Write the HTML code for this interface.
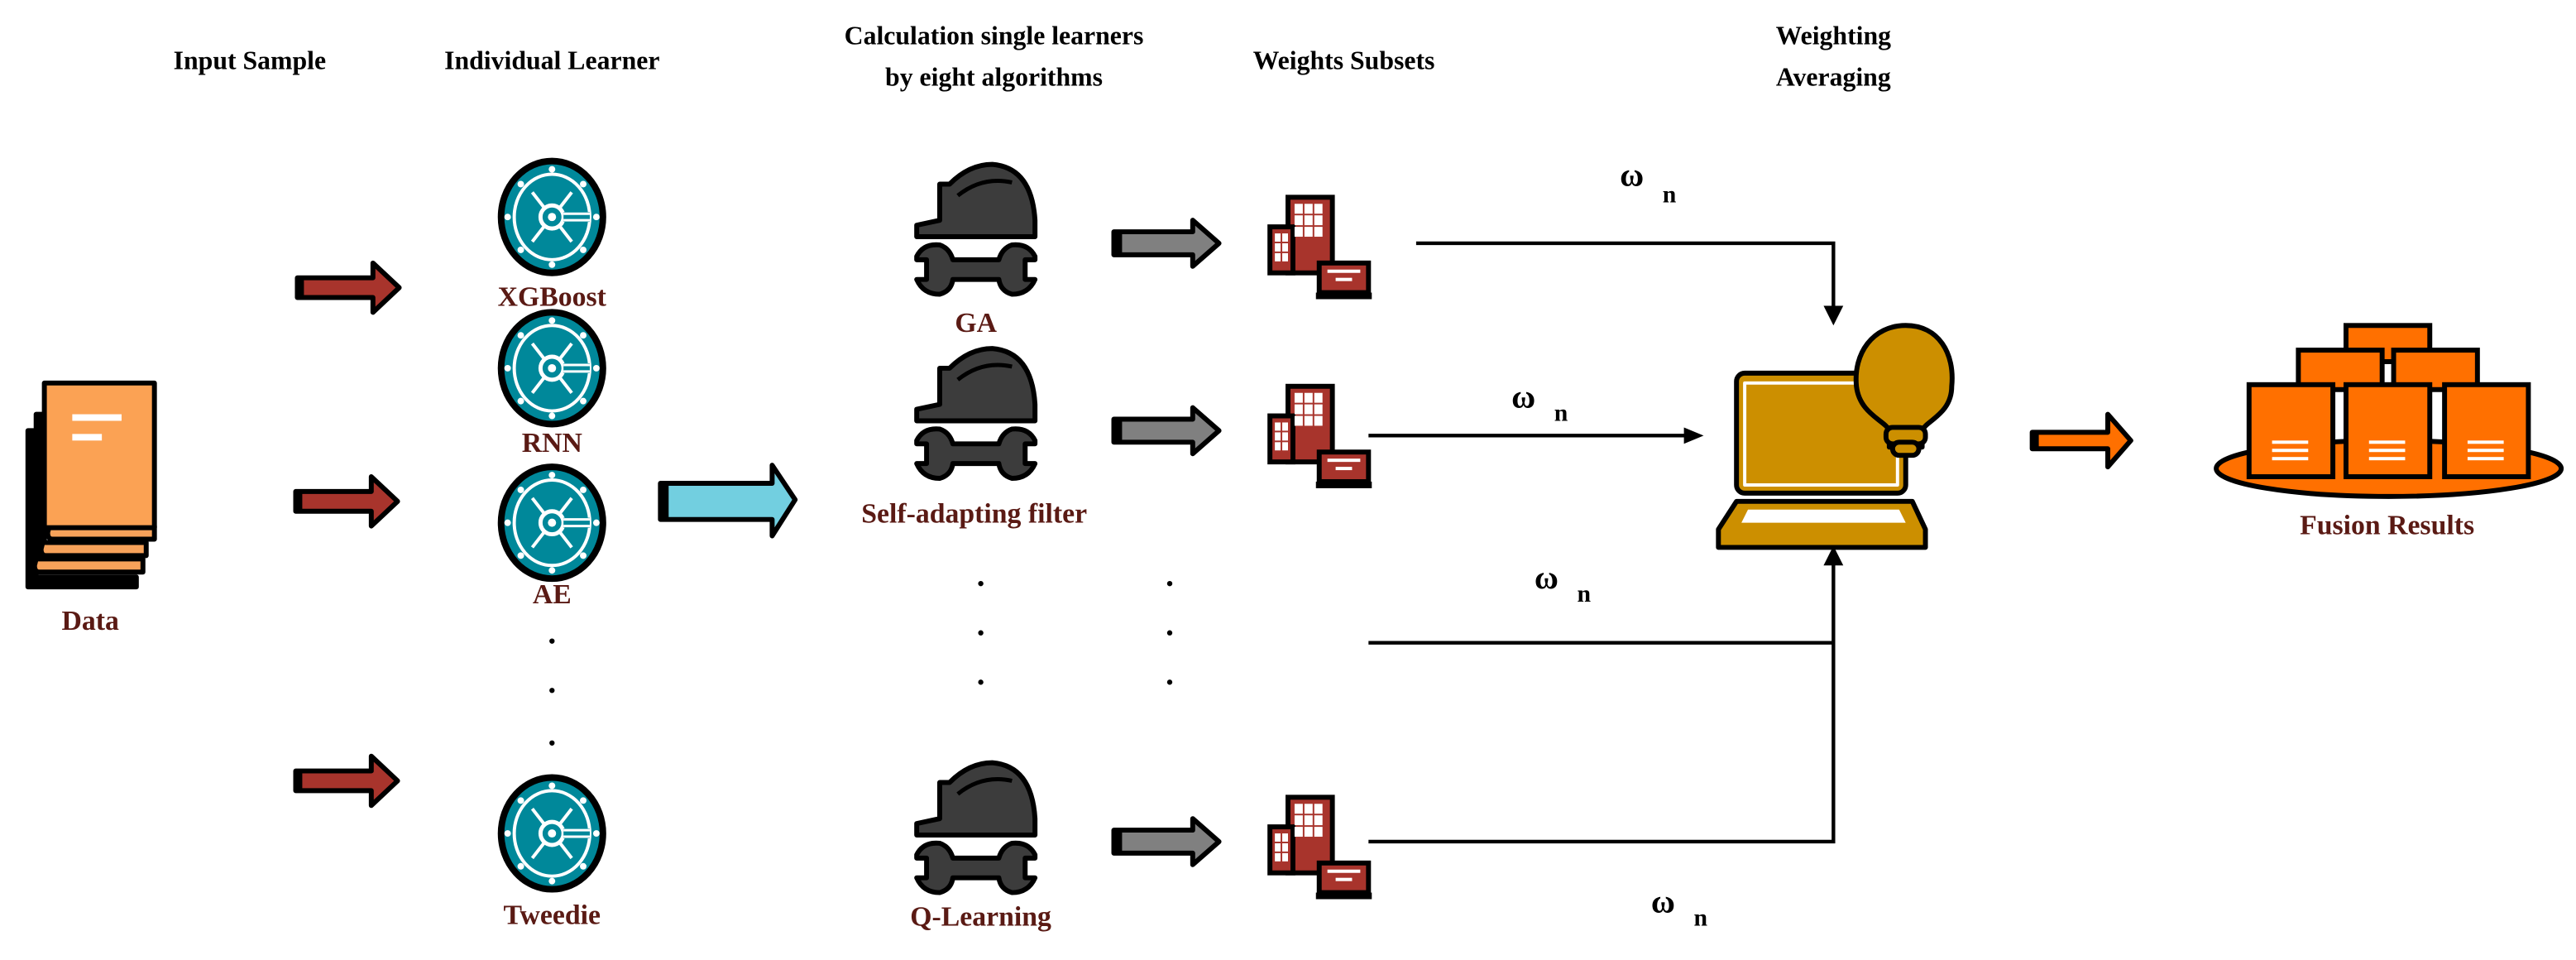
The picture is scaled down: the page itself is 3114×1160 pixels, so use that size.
<!DOCTYPE html>
<html><head><meta charset="utf-8"><style>
html,body{margin:0;padding:0;background:#fff;}
svg{display:block;}
text{font-family:"Liberation Serif",serif;font-weight:bold;}
</style></head><body>
<svg width="3114" height="1160" viewBox="0 0 1568 584" preserveAspectRatio="none" xmlns="http://www.w3.org/2000/svg">
<defs>
<g id="redarrow">
<path d="M0,-6 H46 V-15 L62,0 L46,15 V6 H0 Z" fill="#a8342c" stroke="#000" stroke-width="3" stroke-linejoin="round"/>
<rect x="-1" y="-6" width="5" height="12" fill="#000"/>
</g>
<g id="grayarrow">
<path d="M0,-7 H48 V-14 L64,0 L48,14 V7 H0 Z" fill="#808080" stroke="#000" stroke-width="3" stroke-linejoin="round"/>
<rect x="-1" y="-7" width="6" height="14" fill="#000"/>
</g>
<g id="learner">
<ellipse cx="0" cy="0" rx="31" ry="34" fill="#00889a" stroke="#000" stroke-width="4"/>
<ellipse cx="0" cy="0" rx="23" ry="26" fill="none" stroke="#fff" stroke-width="2"/>
<circle cx="0" cy="0" r="7" fill="none" stroke="#fff" stroke-width="2.5"/>
<circle cx="0" cy="0" r="2.5" fill="#fff"/>
<path d="M7,0 H23" stroke="#00889a" stroke-width="6"/>
<path d="M7,-2 H23 M7,2 H23" stroke="#fff" stroke-width="1.5"/>
<path d="M-5,-6 L-12,-15 M5,-6 L12,-15 M-5,6 L-12,15 M5,6 L12,15" stroke="#fff" stroke-width="2"/>
<g fill="#fff"><circle cx="0" cy="-29" r="2"/><circle cx="0" cy="29" r="2"/><circle cx="-27" cy="0" r="2"/><circle cx="27" cy="0" r="2"/><circle cx="-19" cy="-20" r="2"/><circle cx="19" cy="-20" r="2"/><circle cx="-19" cy="20" r="2"/><circle cx="19" cy="20" r="2"/></g>
</g>
<g id="tool">
<path d="M-36,-4 V-11 L-22,-14 V-36 H-16 Q-4,-48 10,-48 Q34,-46 36,-14 V-4 Z" fill="#3c3c3c" stroke="#000" stroke-width="3" stroke-linejoin="round"/>
<path d="M-11,-29 Q4,-41 22,-37" fill="none" stroke="#000" stroke-width="2.5"/>
<path d="M-36,10 V8 Q-32,0 -22,1 Q-16,3 -14,10 H14 Q16,3 22,1 Q32,0 36,8 V10 H30 V22 H36 Q32,31 22,31 Q15,29 14,22 H-14 Q-15,29 -22,31 Q-32,31 -36,22 H-30 V10 Z" fill="#3c3c3c" stroke="#000" stroke-width="3" stroke-linejoin="round"/>
</g>
<g id="bldg">
<rect x="11" y="0" width="27" height="46" fill="#a8342c" stroke="#000" stroke-width="3"/>
<rect x="0" y="18" width="14" height="28" fill="#a8342c" stroke="#000" stroke-width="3"/>
<g fill="#fff"><rect x="15" y="4" width="5" height="6"/><rect x="21" y="4" width="5" height="6"/><rect x="27" y="4" width="5" height="6"/><rect x="15" y="11" width="5" height="6"/><rect x="21" y="11" width="5" height="6"/><rect x="27" y="11" width="5" height="6"/><rect x="15" y="18" width="5" height="6"/><rect x="21" y="18" width="5" height="6"/><rect x="27" y="18" width="5" height="6"/>
<rect x="3" y="22" width="3.5" height="5"/><rect x="7.5" y="22" width="3.5" height="5"/><rect x="3" y="28" width="3.5" height="5"/><rect x="7.5" y="28" width="3.5" height="5"/><rect x="3" y="34" width="3.5" height="5"/><rect x="7.5" y="34" width="3.5" height="5"/></g>
<rect x="30" y="40" width="30" height="18" fill="#a8342c" stroke="#000" stroke-width="3"/>
<rect x="35" y="44" width="20" height="2" fill="#fff"/><rect x="40" y="49" width="10" height="2" fill="#fff"/>
<rect x="28" y="58" width="34" height="4" fill="#000"/>
</g>
</defs>

<g font-size="16" fill="#000" text-anchor="middle">
<text x="152" y="42">Input Sample</text>
<text x="336" y="42">Individual Learner</text>
<text x="605" y="27">Calculation single learners</text>
<text x="605" y="52">by eight algorithms</text>
<text x="818" y="42">Weights Subsets</text>
<text x="1116" y="27">Weighting</text>
<text x="1116" y="52">Averaging</text>
</g>

<!-- data books -->
<g stroke="#000" stroke-width="3" stroke-linejoin="round">
<path d="M17,262 V357 H83 V351 H22 V262 Z" fill="#000"/>
<path d="M22,252 V345 H27 V252 Z" fill="#000"/>
<path d="M22,340 H87 V348 H24 Q21,348 21,344 Z" fill="#f7a25a"/>
<path d="M26,330 H89 V338 H28 Q25,338 25,334 Z" fill="#f7a25a"/>
<path d="M30,320 H94 V328 H32 Q29,328 29,324 Z" fill="#f7a25a"/>
<rect x="27" y="233" width="67" height="88" fill="#fba254"/>
</g>
<rect x="44" y="252" width="30" height="4" fill="#fff"/>
<rect x="44" y="264" width="18" height="4" fill="#fff"/>

<g fill="#5a1a14" font-size="17" text-anchor="middle">
<text x="55" y="383">Data</text>
<text x="336" y="186">XGBoost</text>
<text x="336" y="275">RNN</text>
<text x="336" y="367">AE</text>
<text x="336" y="562">Tweedie</text>
<text x="594" y="202">GA</text>
<text x="593" y="318">Self-adapting filter</text>
<text x="597" y="563">Q-Learning</text>
<text x="1453" y="325">Fusion Results</text>
</g>

<use href="#redarrow" x="181" y="175"/>
<use href="#redarrow" x="180" y="305"/>
<use href="#redarrow" x="180" y="475"/>

<use href="#learner" x="336" y="132"/>
<use href="#learner" x="336" y="224"/>
<use href="#learner" x="336" y="318"/>
<use href="#learner" x="336" y="507"/>
<g fill="#000"><circle cx="336" cy="390" r="1.6"/><circle cx="336" cy="420" r="1.6"/><circle cx="336" cy="452" r="1.6"/>
<circle cx="597" cy="355" r="1.6"/><circle cx="597" cy="385" r="1.6"/><circle cx="597" cy="415" r="1.6"/>
<circle cx="712" cy="355" r="1.6"/><circle cx="712" cy="385" r="1.6"/><circle cx="712" cy="415" r="1.6"/></g>

<path d="M402,294 H470 V283 L484,304 L470,326 V316 H402 Z" fill="#72cfe0" stroke="#000" stroke-width="3" stroke-linejoin="round"/>
<rect x="401" y="294" width="6" height="22" fill="#000"/>

<use href="#tool" x="594" y="148"/>
<use href="#tool" x="594" y="260"/>
<use href="#tool" x="594" y="512"/>

<use href="#grayarrow" x="678" y="148"/>
<use href="#grayarrow" x="678" y="262"/>
<use href="#grayarrow" x="678" y="512"/>

<use href="#bldg" x="773" y="120"/>
<use href="#bldg" x="773" y="235"/>
<use href="#bldg" x="773" y="485"/>

<g stroke="#000" stroke-width="2.2" fill="none">
<path d="M862,148 H1116 V190"/>
<path d="M833,265 H1030"/>
<path d="M833,391 H1116"/>
<path d="M833,512 H1116 V340"/>
</g>
<g fill="#000">
<path d="M1110,186 H1122 L1116,198 Z"/>
<path d="M1025,260 L1037,265 L1025,270 Z"/>
<path d="M1110,344 H1122 L1116,332 Z"/>
</g>
<g font-size="20" fill="#000">
<text x="986" y="113">ω</text><text x="1012" y="123" font-size="15">n</text>
<text x="920" y="248">ω</text><text x="946" y="256" font-size="15">n</text>
<text x="934" y="358">ω</text><text x="960" y="366" font-size="15">n</text>
<text x="1005" y="555">ω</text><text x="1031" y="563" font-size="15">n</text>
</g>

<g stroke="#000" stroke-width="3" stroke-linejoin="round">
<rect x="1057" y="227" width="103" height="73" rx="5" fill="#cc8f00"/>
<rect x="1062" y="233" width="93" height="62" fill="none" stroke="#fff" stroke-width="2"/>
<path d="M1057,305 H1164 L1172,322 V333 H1046 V322 Z" fill="#cc8f00"/>
<path d="M1064,310 H1156 L1160,318 H1060 Z" fill="#fff" stroke="none"/>
<path d="M1160,198 C1140,198 1128,215 1130,235 C1132,252 1148,256 1150,262 V272 H1170 V262 C1172,256 1188,252 1188,235 C1190,215 1180,198 1160,198 Z" fill="#cc8f00"/>
<rect x="1148" y="260" width="24" height="10" rx="4" fill="#cc8f00"/>
<rect x="1152" y="269" width="16" height="8" rx="4" fill="#cc8f00"/>
</g>

<path d="M1237,263 H1283 V252 L1297,268 L1283,284 V273 H1237 Z" fill="#ff7000" stroke="#000" stroke-width="3" stroke-linejoin="round"/>
<rect x="1236" y="263" width="5" height="10" fill="#000"/>

<g stroke="#000" stroke-width="3">
<ellipse cx="1454" cy="285" rx="105" ry="17" fill="#ff7000"/>
<rect x="1428" y="198" width="51" height="22" fill="#ff7000"/>
<rect x="1399" y="213" width="51" height="24" fill="#ff7000"/>
<rect x="1457" y="213" width="51" height="24" fill="#ff7000"/>
<rect x="1369" y="234" width="51" height="56" fill="#ff7000"/>
<rect x="1428" y="234" width="51" height="56" fill="#ff7000"/>
<rect x="1488" y="234" width="51" height="56" fill="#ff7000"/>
</g>
<g fill="#fff">
<rect x="1383" y="268" width="22" height="2"/><rect x="1383" y="273" width="22" height="2"/><rect x="1383" y="278" width="22" height="2"/>
<rect x="1442" y="268" width="22" height="2"/><rect x="1442" y="273" width="22" height="2"/><rect x="1442" y="278" width="22" height="2"/>
<rect x="1502" y="268" width="22" height="2"/><rect x="1502" y="273" width="22" height="2"/><rect x="1502" y="278" width="22" height="2"/>
</g>
</svg>
</body></html>
